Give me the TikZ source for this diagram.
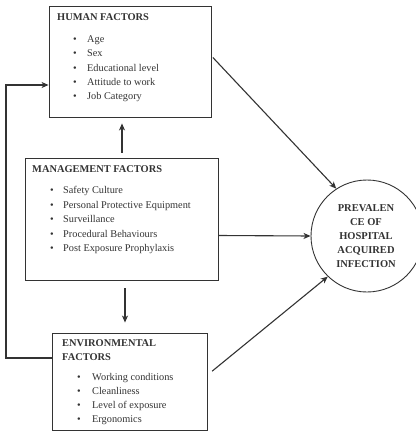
\documentclass[tikz,border=0pt]{standalone}
\usepackage{fontspec}
\setmainfont{Liberation Serif}
\usetikzlibrary{arrows.meta,calc}
\definecolor{ink}{HTML}{333333}
\begin{document}
\begin{tikzpicture}[x=1pt,y=-1pt,
  box/.style={draw=ink,line width=0.9pt,rectangle,inner sep=0pt},
  circ/.style={draw=ink,line width=0.9pt,circle,inner sep=0pt,minimum size=112pt},
  ttl/.style={anchor=base west,inner sep=0pt,text=ink,font=\fontsize{10.4}{12}\selectfont\bfseries},
  itm/.style={anchor=base west,inner sep=0pt,text=ink,font=\fontsize{10.3}{12}\selectfont},
  ctxt/.style={anchor=base,inner sep=0pt,text=ink,font=\fontsize{10.5}{12}\selectfont\bfseries},
  arr/.style={draw=ink,line width=1.1pt,-{Stealth[length=7pt,width=6pt,inset=2pt]}}]
\useasboundingbox (0,0) rectangle (415,433);
% boxes
\node[box,minimum width=162pt,minimum height=111pt] (hbox) at (130,61.5) {};
\node[box,minimum width=193pt,minimum height=122pt] (mbox) at (121.5,219) {};
\node[box,minimum width=155pt,minimum height=97pt] (ebox) at (129.5,381.5) {};
\node[circ] (circ) at (367,236) {};
% human texts
\node[ttl] (ht) at (57,21) {HUMAN FACTORS};
\node[itm] (h1) at (73,42.5) {\makebox[14pt][l]{•}Age};
\node[itm] (h2) at (73,56.8) {\makebox[14pt][l]{•}Sex};
\node[itm] (h3) at (73,71.1) {\makebox[14pt][l]{•}Educational level};
\node[itm] (h4) at (73,85.4) {\makebox[14pt][l]{•}Attitude to work};
\node[itm] (h5) at (73,99.7) {\makebox[14pt][l]{•}Job Category};
% management texts
\node[ttl] (mt) at (32,172) {MANAGEMENT FACTORS};
\node[itm] (m1) at (50,193.5) {\makebox[13pt][l]{•}Safety Culture};
\node[itm] (m2) at (50,208) {\makebox[13pt][l]{•}Personal Protective Equipment};
\node[itm] (m3) at (50,222.5) {\makebox[13pt][l]{•}Surveillance};
\node[itm] (m4) at (50,237) {\makebox[13pt][l]{•}Procedural Behaviours};
\node[itm] (m5) at (50,251.5) {\makebox[13pt][l]{•}Post Exposure Prophylaxis};
% environmental texts
\node[ttl] (et1) at (62,346) {ENVIRONMENTAL};
\node[ttl] (et2) at (62,360) {FACTORS};
\node[itm] (e1) at (77,380) {\makebox[15pt][l]{•}Working conditions};
\node[itm] (e2) at (77,394.5) {\makebox[15pt][l]{•}Cleanliness};
\node[itm] (e3) at (77,408.5) {\makebox[15pt][l]{•}Level of exposure};
\node[itm] (e4) at (77,422.5) {\makebox[15pt][l]{•}Ergonomics};
% circle texts
\node[ctxt] (c1) at (366,211) {PREVALEN};
\node[ctxt] (c2) at (366,225) {CE OF};
\node[ctxt] (c3) at (366,239) {HOSPITAL};
\node[ctxt] (c4) at (366,253) {ACQUIRED};
\node[ctxt] (c5) at (366,267) {INFECTION};
% connectors
\draw[arr,shorten <=5pt,shorten >=6pt] ([xshift=0.5pt]mbox.north) -- ([xshift=0.5pt]mbox.north |- hbox.south);
\draw[arr,shorten <=8pt,shorten >=10pt] ([xshift=3.5pt]mbox.south) -- ([xshift=3.5pt]mbox.south |- ebox.north);
\coordinate (fb) at (6,85);
\draw[arr] ([yshift=23.5pt]ebox.west) -| (fb) -- (fb -| hbox.west);
\draw[arr,shorten <=2pt] ([yshift=5.5pt]hbox.east) -- (circ.123);
\draw[arr] ([yshift=-16.5pt]mbox.east) -- (circ.west);
\draw[arr,shorten <=6pt] ([yshift=6.5pt]ebox.east) -- (circ.226);
\end{tikzpicture}
\end{document}
